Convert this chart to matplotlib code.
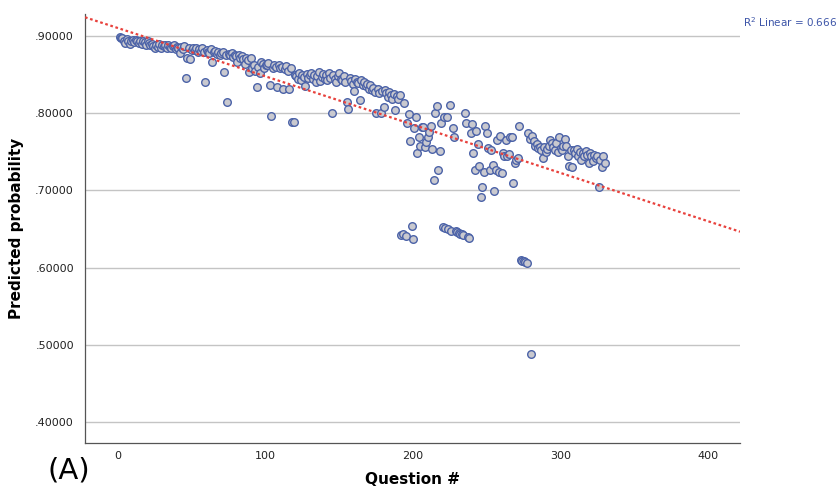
import numpy as np
import matplotlib
matplotlib.use("Agg")
import matplotlib.pyplot as plt

# predicted probability per question
question = np.arange(1, 331)
pred_prob = [
    .899, .898, .897, .893, .891, .896, .894, .890, .893, .895,
    .892, .895, .894, .891, .893, .890, .894, .892, .889, .893,
    .891, .888, .890, .887, .885, .889, .886, .890, .884, .888,
    .887, .889, .885, .888, .886, .884, .887, .889, .883, .886,
    .885, .878, .886, .883, .887, .846, .871, .884, .870, .882,
    .884, .882, .885, .880, .883, .881, .884, .879, .841, .882,
    .880, .878, .883, .866, .879, .881, .877, .880, .876, .878,
    .879, .853, .876, .814, .877, .875, .878, .873, .876, .874,
    .866, .875, .872, .874, .870, .864, .872, .869, .853, .871,
    .858, .862, .855, .834, .860, .852, .866, .864, .858, .863,
    .862, .865, .836, .796, .859, .863, .860, .834, .862, .858,
    .860, .832, .857, .861, .855, .831, .858, .789, .789, .850,
    .848, .845, .852, .843, .850, .847, .835, .851, .846, .849,
    .852, .844, .850, .840, .848, .853, .842, .847, .851, .845,
    .849, .843, .852, .846, .800, .850, .844, .841, .848, .852,
    .845, .843, .848, .840, .815, .806, .846, .842, .838, .829,
    .844, .841, .839, .817, .843, .837, .840, .835, .838, .832,
    .836, .830, .833, .828, .800, .831, .826, .800, .829, .808,
    .830, .826, .821, .828, .823, .818, .825, .804, .822, .819,
    .823, .642, .643, .813, .641, .788, .799, .764, .654, .637,
    .781, .795, .749, .769, .758, .782, .782, .756, .763, .769,
    .776, .783, .754, .714, .800, .809, .726, .751, .787, .652,
    .795, .651, .795, .650, .811, .648, .781, .769, .647, .646,
    .645, .644, .643, .642, .800, .787, .640, .638, .774, .786,
    .748, .727, .777, .760, .732, .691, .704, .724, .783, .774,
    .755, .727, .752, .733, .699, .726, .765, .724, .771, .722,
    .748, .745, .765, .745, .747, .769, .769, .709, .735, .740,
    .742, .784, .610, .609, .608, .607, .606, .774, .767, .488,
    .770, .764, .758, .760, .755, .756, .752, .742, .756, .750,
    .754, .758, .765, .762, .756, .752, .761, .750, .769, .755,
    .752, .758, .766, .758, .745, .731, .753, .730, .752, .748,
    .754, .745, .750, .739, .748, .744, .751, .746, .735, .748,
    .744, .738, .746, .742, .744, .705, .740, .730, .745, .735,
]
r2_label = "R$^2$ Linear = 0.666"

x = question
y = np.array(pred_prob)

fig = plt.figure(figsize=(8.39, 4.93), dpi=100)
ax = fig.add_axes([0.1013, 0.1014, 0.7807, 0.8702])

ax.set_xlim(-22.4, 421.7)
ax.set_ylim(0.3727, 0.9286)

yt = [0.4, 0.5, 0.6, 0.7, 0.8, 0.9]
ax.set_yticks(yt)
ax.set_yticklabels([("%.5f" % v).lstrip("0") for v in yt])
ax.set_xticks([0, 100, 200, 300, 400])

for v in yt:
    ax.axhline(v, color="#c4c4c4", lw=1.0, zorder=0)

# linear fit line
k, b = np.polyfit(x, y, 1)
xl = np.array(ax.get_xlim())
ax.plot(xl, k * xl + b, color="#e8413c", lw=1.6, ls=(0, (1.2, 1.2)), zorder=3)

ax.scatter(x, y, s=30, facecolor="#c9c9cf", edgecolor="#4b62a8", linewidth=1.0, zorder=2)

for s in ["top", "right"]:
    ax.spines[s].set_visible(False)
for s in ["left", "bottom"]:
    ax.spines[s].set_color("#555555")
    ax.spines[s].set_linewidth(0.9)
ax.tick_params(length=0, labelsize=8, colors="#222222")
ax.tick_params(axis="y", pad=8)
ax.tick_params(axis="x", pad=6)

ax.set_ylabel("Predicted probability", fontsize=11, fontweight="bold", labelpad=8)
ax.set_xlabel("Question #", fontsize=11, fontweight="bold", labelpad=8)

fig.text(0.885, 0.955, r2_label, color="#3d55a8", fontsize=7.5, ha="left", va="center")
fig.text(0.057, 0.045, "(A)", fontsize=21, ha="left", va="center")

fig.savefig("out.png", dpi=100)
